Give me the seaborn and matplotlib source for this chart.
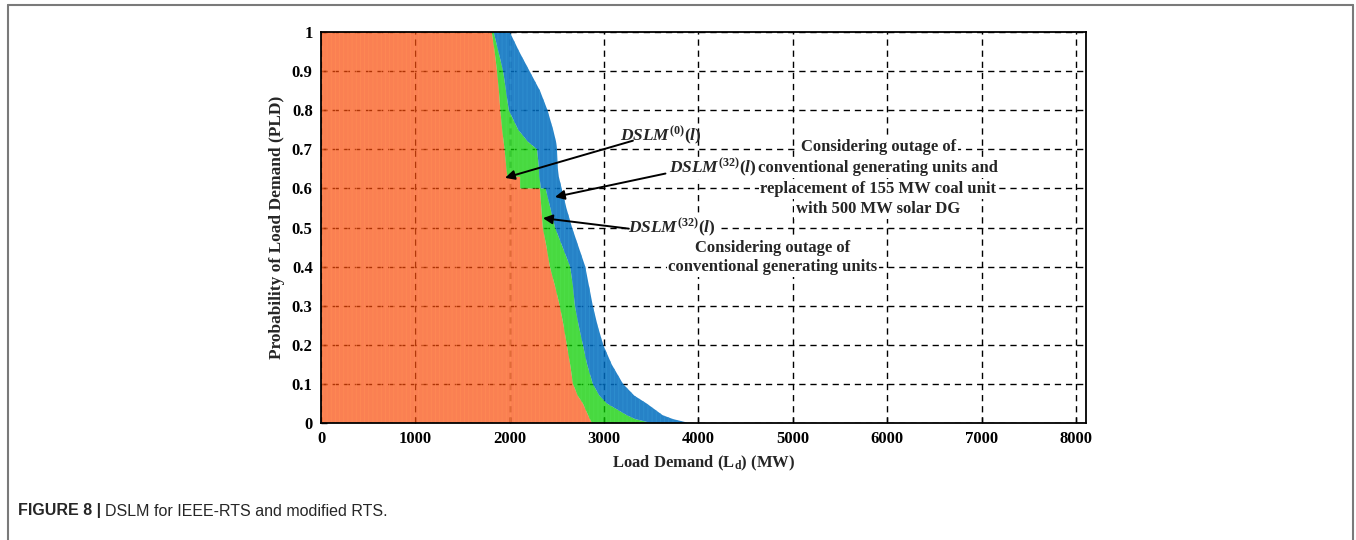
import matplotlib
matplotlib.use("Agg")
import matplotlib.pyplot as plt
from matplotlib.lines import Line2D
import seaborn as sns

# probability levels (PLD) shared by the three curves, read top to bottom
pld = [1.00, 0.95, 0.90, 0.85, 0.80, 0.75, 0.72, 0.70, 0.65, 0.63, 0.63, 0.60, 0.60,
       0.55, 0.50, 0.45, 0.40, 0.35, 0.30, 0.25, 0.20, 0.15, 0.10, 0.07, 0.05,
       0.02, 0.01, 0.00]
# load demand (MW) reached at each level
dslm0 = [1810, 1840, 1865, 1885, 1900, 1920, 1935, 1945, 1965, 1975, 2110, 2110, 2320,
         2335, 2350, 2390, 2425, 2480, 2530, 2570, 2605, 2640, 2670, 2720, 2775,
         2830, 2850, 2870]
dslm32 = [1830, 1880, 1930, 1960, 1990, 2090, 2190, 2290, 2310, 2315, 2315, 2330, 2380,
          2430, 2480, 2560, 2640, 2670, 2690, 2730, 2775, 2820, 2880, 2950, 3030,
          3240, 3330, 3500]
dslm32_solar = [2000, 2100, 2210, 2320, 2400, 2460, 2490, 2500, 2510, 2520, 2520, 2550, 2550,
                2600, 2660, 2730, 2800, 2840, 2880, 2930, 2990, 3080, 3200, 3320, 3450,
                3620, 3730, 3900]

x_ticks = [0, 1000, 2000, 3000, 4000, 5000, 6000, 7000, 8000]
y_ticks = [0, 0.1, 0.2, 0.3, 0.4, 0.5, 0.6, 0.7, 0.8, 0.9, 1.0]
y_tick_labels = ["0", "0.1", "0.2", "0.3", "0.4", "0.5", "0.6", "0.7", "0.8", "0.9", "1"]

note_solar = ["Considering outage of", "conventional generating units and",
              "replacement of 155 MW coal unit", "with 500 MW solar DG"]
note_conv = ["Considering outage of", "conventional generating units"]

sns.set_theme(style="white")
plt.rcParams["font.family"] = ["Liberation Serif", "DejaVu Serif"]
plt.rcParams["font.weight"] = "bold"
plt.rcParams["mathtext.fontset"] = "custom"
plt.rcParams["mathtext.rm"] = "Liberation Serif:bold"
plt.rcParams["mathtext.bf"] = "Liberation Serif:bold"
plt.rcParams["mathtext.it"] = "Liberation Serif:italic:bold"
plt.rcParams["hatch.linewidth"] = 0.7

W, H = 1356, 540
fig = plt.figure(figsize=(W / 100, H / 100), dpi=100)
ax = fig.add_axes([321 / W, 1 - 423 / H, (1086 - 321) / W, (423 - 32) / H])

# fills are slightly see-through so the dashed grid shows as darker dashes
ax.fill_betweenx(pld, 0, dslm0, facecolor="#f84a08", edgecolor="#ff8c55",
                 hatch="||||", linewidth=0, alpha=0.7, zorder=2)
ax.fill_betweenx(pld, dslm0, dslm32, facecolor="#0acd00", edgecolor="#4fe04a",
                 hatch="||||", linewidth=0, alpha=0.75, zorder=2)
ax.fill_betweenx(pld, dslm32, dslm32_solar, facecolor="#006cbe", edgecolor="#2f8fd0",
                 hatch="||||", linewidth=0, alpha=0.85, zorder=2)

ax.set_xlim(0, 8106)
ax.set_ylim(0, 1)
ax.set_xticks(x_ticks)
ax.set_xticklabels([str(v) for v in x_ticks])
ax.set_yticks(y_ticks)
ax.set_yticklabels(y_tick_labels)
ax.tick_params(direction="in", length=4, width=1, labelsize=12, colors="black",
               bottom=True, left=True, pad=6)
ax.grid(True, color="black", linestyle=(0, (4.5, 3.5)), linewidth=1.0)
ax.set_axisbelow(True)
for s in ax.spines.values():
    s.set_visible(True)
    s.set_color("black")
    s.set_linewidth(1.3)

ax.set_xlabel("Load Demand (L$_{\\mathrm{d}}$) (MW)", fontsize=12, fontweight="bold", labelpad=5)
ax.set_ylabel("Probability of Load Demand (PLD)", fontsize=12.5, fontweight="bold", labelpad=5)

box = dict(boxstyle="square,pad=0.1", facecolor="white", edgecolor="none")
tight_box = dict(boxstyle="square,pad=0.0", facecolor="white", edgecolor="none")
arrow = dict(arrowstyle="-|>", color="black", lw=1.4, mutation_scale=14, shrinkA=0, shrinkB=0)

# each note line gets its own tight white box, so the grid shows between lines
for line, yv in zip(note_solar, [0.706, 0.652, 0.598, 0.547]):
    ax.text(5905, yv, line, fontsize=12, ha="center", va="center", bbox=box, zorder=4)
for line, yv in zip(note_conv, [0.448, 0.399]):
    ax.text(4790, yv, line, fontsize=12, ha="center", va="center", bbox=box, zorder=4)

ax.text(3167, 0.735, r"$DSLM^{(0)}(l)$", fontsize=12.5, ha="left", va="center", zorder=5)
ax.annotate("", xy=(1950, 0.627), xytext=(3305, 0.722), arrowprops=arrow, zorder=6)

ax.text(3690, 0.652, r"$DSLM^{(32)}(l)$", fontsize=12.5, ha="left", va="center",
        bbox=tight_box, zorder=5)
ax.annotate("", xy=(2479, 0.578), xytext=(3650, 0.638), arrowprops=arrow, zorder=6)

ax.text(3252, 0.499, r"$DSLM^{(32)}(l)$", fontsize=12.5, ha="left", va="center",
        bbox=box, zorder=5)
ax.annotate("", xy=(2352, 0.524), xytext=(3262, 0.497), arrowprops=arrow, zorder=6)

# page frame around the figure panel
frame = dict(color="#7a7a7a", linewidth=1.5, transform=fig.transFigure)
fig.add_artist(Line2D([8 / W, 1353 / W], [1 - 5 / H, 1 - 5 / H], **frame))
fig.add_artist(Line2D([8 / W, 8 / W], [0, 1 - 5 / H], **frame))
fig.add_artist(Line2D([1353 / W, 1353 / W], [0, 1 - 5 / H], **frame))

cap = fig.text(18 / W, 1 - 511 / H, "FIGURE 8 |", family="Liberation Sans",
               fontweight="bold", fontsize=11.5, va="center", ha="left")
fig.canvas.draw()
bb = cap.get_window_extent()
fig.text((bb.x1 + 4) / W, 1 - 511 / H, "DSLM for IEEE-RTS and modified RTS.",
         family="Liberation Sans", fontweight="normal", fontsize=11.5, va="center", ha="left")

fig.savefig("out.png", dpi=100, facecolor="white")
